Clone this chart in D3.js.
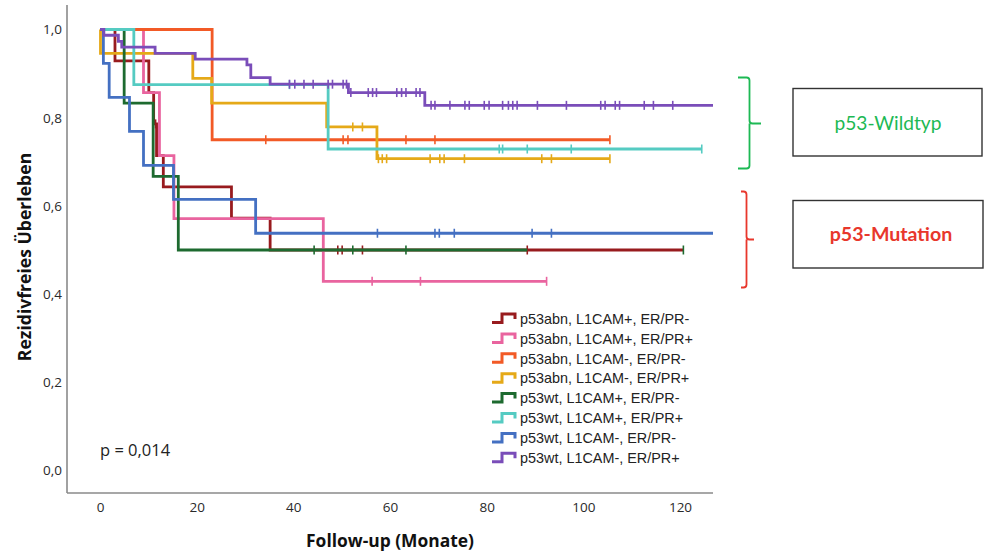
<!DOCTYPE html>
<html><head><meta charset="utf-8">
<script src="https://cdn.jsdelivr.net/npm/d3@7"></script>
<style>body{margin:0;background:#fff}svg{display:block}</style>
</head><body><svg id="c" width="988" height="553"></svg>
<script>
// ---------- data ----------
const groups = [
  "p53abn, L1CAM+, ER/PR-",
  "p53abn, L1CAM+, ER/PR+",
  "p53abn, L1CAM-, ER/PR-",
  "p53abn, L1CAM-, ER/PR+",
  "p53wt, L1CAM+, ER/PR-",
  "p53wt, L1CAM+, ER/PR+",
  "p53wt, L1CAM-, ER/PR-",
  "p53wt, L1CAM-, ER/PR+"
];
const colors = ["#981b1e", "#e9649f", "#f25a26", "#e5a918", "#1d6a2f", "#55cbc2", "#4470c2", "#7a4db9"];
// event times (months) and survival after each event
const eventTimes = [
  [3.1, 10.1, 11.1, 11.7, 13.1, 27.2, 35.2],
  [9.0, 12.3, 15.3, 46.2],
  [23.2],
  [0.1, 19.2, 23.1, 46.9, 57.3],
  [5.0, 11.0, 16.2],
  [7.0, 47.2],
  [0.7, 1.9, 6.1, 9.0, 15.2, 32.2],
  [0.8, 3.8, 4.5, 11.4, 19.7, 30.4, 31.2, 35.2, 51.4, 67.2]
];
const survival = [
  [0.929, 0.857, 0.786, 0.714, 0.643, 0.572, 0.5],
  [0.857, 0.714, 0.571, 0.429],
  [0.75],
  [0.946, 0.889, 0.833, 0.779, 0.707],
  [0.833, 0.667, 0.5],
  [0.875, 0.729],
  [0.923, 0.846, 0.769, 0.692, 0.615, 0.538],
  [0.987, 0.973, 0.96, 0.946, 0.933, 0.92, 0.891, 0.876, 0.857, 0.828]
];
const censorTimes = [
  [11.5, 49.2, 50.1, 54.3, 88.4],
  [56.3, 66.3, 92.4],
  [34.3, 50.3, 51.3, 63.3, 69.3, 105.5],
  [52.3, 54.3, 57.6, 58.4, 59.3, 68.3, 70.3, 71.2, 75.4, 91.4, 93.4, 105.5],
  [44.3, 52.3, 63.3, 120.7],
  [39.2, 82.6, 83.3, 88.4, 97.5, 124.5],
  [57.4, 69.3, 70.2, 73.3, 89.4, 93.4],
  [39.2, 40.3, 42.2, 44.1, 47.2, 48.1, 50.3, 51.0, 51.9, 55.5, 56.4, 57.2, 61.4, 62.4, 63.3, 65.4, 66.2,
   68.5, 69.3, 72.4, 75.5, 76.4, 79.5, 80.5, 83.3, 84.5, 85.4, 86.3, 90.5, 96.5, 103.6, 104.5, 106.6,
   107.5, 112.6, 114.5, 118.5]
];
const endTimes = [120.7, 92.4, 105.5, 105.5, 88.4, 124.5, 127, 127];
const xTicks = [0, 20, 40, 60, 80, 100, 120];
const yTicks = [0, 0.2, 0.4, 0.6, 0.8, 1.0];
const yTickLabels = ["0,0", "0,2", "0,4", "0,6", "0,8", "1,0"];
const pText = "p = 0,014";
const xTitle = "Follow-up (Monate)";
const yTitle = "Rezidivfreies Überleben";
const groupLabels = ["p53-Wildtyp", "p53-Mutation"];

// ---------- scales ----------
const svg = d3.select("#c");
const x = d3.scaleLinear().domain([0, 120]).range([100, 680]);
const y = d3.scaleLinear().domain([0, 1]).range([470.5, 29.5]);
const pLeft = 67, pRight = 713, pTop = 5, pBottom = 493;

svg.append("defs").append("clipPath").attr("id", "clip")
  .append("rect").attr("x", pLeft).attr("y", pTop).attr("width", pRight - pLeft).attr("height", pBottom - pTop);

// axes
const yAxis = d3.axisLeft(y).tickValues(yTicks).tickFormat((d, i) => yTickLabels[i]).tickSize(0).tickPadding(5);
const gy = svg.append("g").attr("transform", `translate(${pLeft},0)`).call(yAxis);
gy.select(".domain").remove();
gy.selectAll("text").attr("font-family", "Open Sans").attr("font-size", 13.5).attr("fill", "#2a2a2a");

const xAxis = d3.axisBottom(x).tickValues(xTicks).tickSize(0).tickPadding(9);
const gx = svg.append("g").attr("transform", `translate(0,${pBottom})`).call(xAxis);
gx.select(".domain").remove();
gx.selectAll("text").attr("font-family", "Open Sans").attr("font-size", 13.5).attr("fill", "#2a2a2a");

svg.append("line").attr("x1", pLeft).attr("x2", pLeft).attr("y1", pTop).attr("y2", pBottom)
  .attr("stroke", "#8a8a8a").attr("stroke-width", 1.6);
svg.append("line").attr("x1", pLeft).attr("x2", pRight).attr("y1", pBottom).attr("y2", pBottom)
  .attr("stroke", "#8a8a8a").attr("stroke-width", 1.6);

// curves
const line = d3.line().x(d => x(d[0])).y(d => y(d[1])).curve(d3.curveStepAfter);
const plot = svg.append("g").attr("clip-path", "url(#clip)");
function survAt(i, t) {
  let s = 1;
  eventTimes[i].forEach((et, k) => { if (et <= t) s = survival[i][k]; });
  return s;
}
groups.forEach((g, i) => {
  const pts = [[0, 1]];
  eventTimes[i].forEach((t, k) => pts.push([t, survival[i][k]]));
  pts.push([endTimes[i], survival[i][survival[i].length - 1]]);
  plot.append("path").attr("d", line(pts)).attr("fill", "none")
    .attr("stroke", colors[i]).attr("stroke-width", 2.8).attr("stroke-linejoin", "miter");
  plot.selectAll(null).data(censorTimes[i]).join("line")
    .attr("x1", d => x(d)).attr("x2", d => x(d))
    .attr("y1", d => y(survAt(i, d)) - 4.5).attr("y2", d => y(survAt(i, d)) + 4.5)
    .attr("stroke", colors[i]).attr("stroke-width", 1.6);
});

// legend
const lg = svg.append("g");
groups.forEach((g, i) => {
  const yc = 318.5 + i * 19.9;
  lg.append("path")
    .attr("d", `M492,${yc + 4}H502V${yc - 4.5}H515V${yc + 0.5}`)
    .attr("fill", "none").attr("stroke", colors[i]).attr("stroke-width", 3);
  lg.append("text").attr("x", 520).attr("y", yc + 5.2).text(g)
    .attr("font-family", "Liberation Sans").attr("font-size", 14.4).attr("fill", "#222");
});

// p value
svg.append("text").attr("x", 100).attr("y", 456).text(pText)
  .attr("font-family", "Open Sans").attr("font-size", 16.5).attr("fill", "#222");

// titles
svg.append("text").attr("x", 390).attr("y", 547).attr("text-anchor", "middle").text(xTitle)
  .attr("font-family", "Open Sans").attr("font-weight", "bold").attr("font-size", 17.4).attr("fill", "#111");
svg.append("text").attr("transform", "translate(31,257) rotate(-90)").attr("text-anchor", "middle").text(yTitle)
  .attr("font-family", "Open Sans").attr("font-weight", "bold").attr("font-size", 17.6).attr("fill", "#111");

// brackets and boxes
function bracket(x0, xv, xm, y0, y1, ym, col) {
  svg.append("path")
    .attr("d", `M${x0},${y0}H${xv - 3}Q${xv},${y0} ${xv},${y0 + 3}V${ym - 3}Q${xv},${ym} ${xv + 3},${ym}H${xm}M${xv},${ym}V${y1 - 3}Q${xv},${y1} ${xv - 3},${y1}H${x0}`)
    .attr("fill", "none").attr("stroke", col).attr("stroke-width", 1.8);
}
bracket(738, 749.5, 761, 77.5, 168.5, 123.5, "#1db954");
bracket(741, 746.5, 754, 191.5, 287.5, 239.5, "#e8372c");

svg.append("rect").attr("x", 793).attr("y", 88.5).attr("width", 189).attr("height", 67.5)
  .attr("fill", "none").attr("stroke", "#333").attr("stroke-width", 1.4);
svg.append("rect").attr("x", 793).attr("y", 200.5).attr("width", 190).attr("height", 67.5)
  .attr("fill", "none").attr("stroke", "#333").attr("stroke-width", 1.4);
svg.append("text").attr("x", 888).attr("y", 130).attr("text-anchor", "middle").text(groupLabels[0])
  .attr("font-family", "Lato").attr("font-size", 19.2).attr("fill", "#1db954");
svg.append("text").attr("x", 891).attr("y", 241).attr("text-anchor", "middle").text(groupLabels[1])
  .attr("font-family", "Lato").attr("font-weight", "bold").attr("font-size", 19.6).attr("fill", "#e8372c");
</script>
</body></html>
